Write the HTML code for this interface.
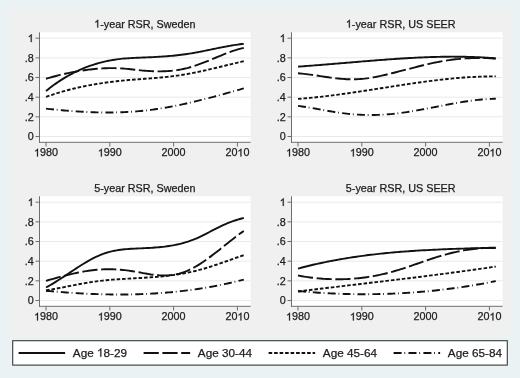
<!DOCTYPE html><html><head><meta charset="utf-8"><style>html,body{margin:0;padding:0;background:#eaf2f3;}svg{display:block;will-change:transform;}text{font-family:"Liberation Sans",sans-serif;stroke:#222;stroke-width:0.25px;}.one{fill-opacity:0;stroke-opacity:0;}</style></head><body>
<svg width="520" height="378" viewBox="0 0 520 378">
<g>
<rect x="0" y="0" width="520" height="378" fill="#eaf2f3"/>
<defs><filter id="soft" x="-10" y="-10" width="540" height="400" filterUnits="userSpaceOnUse"><feGaussianBlur stdDeviation="2.5"/></filter></defs>
<rect x="9.5" y="9.5" width="502" height="327" fill="#f0f0f0" filter="url(#soft)"/>
<rect x="39.50" y="32.30" width="211.10" height="110.00" fill="#ffffff"/>
<line x1="40.00" y1="136.50" x2="250.60" y2="136.50" stroke="#e9e9e9" stroke-width="1"/>
<line x1="40.00" y1="116.84" x2="250.60" y2="116.84" stroke="#e9e9e9" stroke-width="1"/>
<line x1="40.00" y1="97.18" x2="250.60" y2="97.18" stroke="#e9e9e9" stroke-width="1"/>
<line x1="40.00" y1="77.52" x2="250.60" y2="77.52" stroke="#e9e9e9" stroke-width="1"/>
<line x1="40.00" y1="57.86" x2="250.60" y2="57.86" stroke="#e9e9e9" stroke-width="1"/>
<line x1="40.00" y1="38.20" x2="250.60" y2="38.20" stroke="#e9e9e9" stroke-width="1"/>
<line x1="39.50" y1="32.30" x2="39.50" y2="142.80" stroke="#6e6e6e" stroke-width="1"/>
<line x1="39.00" y1="142.30" x2="250.60" y2="142.30" stroke="#6e6e6e" stroke-width="1"/>
<line x1="35.50" y1="136.50" x2="39.50" y2="136.50" stroke="#6e6e6e" stroke-width="1"/>
<text x="33.70" y="140.35" font-size="10.80" fill="#1a1a1a" text-anchor="end">0</text>
<line x1="35.50" y1="116.84" x2="39.50" y2="116.84" stroke="#6e6e6e" stroke-width="1"/>
<text x="33.70" y="120.69" font-size="10.80" fill="#1a1a1a" text-anchor="end">.2</text>
<line x1="35.50" y1="97.18" x2="39.50" y2="97.18" stroke="#6e6e6e" stroke-width="1"/>
<text x="33.70" y="101.03" font-size="10.80" fill="#1a1a1a" text-anchor="end">.4</text>
<line x1="35.50" y1="77.52" x2="39.50" y2="77.52" stroke="#6e6e6e" stroke-width="1"/>
<text x="33.70" y="81.37" font-size="10.80" fill="#1a1a1a" text-anchor="end">.6</text>
<line x1="35.50" y1="57.86" x2="39.50" y2="57.86" stroke="#6e6e6e" stroke-width="1"/>
<text x="33.70" y="61.71" font-size="10.80" fill="#1a1a1a" text-anchor="end">.8</text>
<line x1="35.50" y1="38.20" x2="39.50" y2="38.20" stroke="#6e6e6e" stroke-width="1"/>
<text x="33.70" y="42.05" font-size="10.80" fill="#1a1a1a" text-anchor="end"><tspan class="one">1</tspan></text>
<line x1="46.00" y1="142.30" x2="46.00" y2="146.50" stroke="#6e6e6e" stroke-width="1"/>
<text x="46.00" y="156.45" font-size="10.80" fill="#1a1a1a" text-anchor="middle"><tspan class="one">1</tspan>980</text>
<line x1="109.80" y1="142.30" x2="109.80" y2="146.50" stroke="#6e6e6e" stroke-width="1"/>
<text x="109.80" y="156.45" font-size="10.80" fill="#1a1a1a" text-anchor="middle"><tspan class="one">1</tspan>990</text>
<line x1="173.60" y1="142.30" x2="173.60" y2="146.50" stroke="#6e6e6e" stroke-width="1"/>
<text x="173.60" y="156.45" font-size="10.80" fill="#1a1a1a" text-anchor="middle">2000</text>
<line x1="237.40" y1="142.30" x2="237.40" y2="146.50" stroke="#6e6e6e" stroke-width="1"/>
<text x="237.40" y="156.45" font-size="10.80" fill="#1a1a1a" text-anchor="middle">20<tspan class="one">1</tspan>0</text>
<text x="144.90" y="27.60" font-size="10.80" fill="#1a1a1a" text-anchor="middle"><tspan class="one">1</tspan>-year RSR, Sweden</text>
<path d="M46.00,108.63 L48.02,108.85 L50.04,109.07 L52.05,109.28 L54.07,109.48 L56.09,109.68 L58.11,109.88 L60.13,110.07 L62.15,110.25 L64.16,110.43 L66.18,110.60 L68.20,110.77 L70.22,110.93 L72.24,111.08 L74.25,111.23 L76.27,111.37 L78.29,111.50 L80.31,111.62 L82.33,111.74 L84.35,111.85 L86.36,111.95 L88.38,112.04 L90.40,112.13 L92.42,112.21 L94.44,112.27 L96.45,112.33 L98.47,112.38 L100.49,112.42 L102.51,112.45 L104.53,112.47 L106.54,112.48 L108.56,112.48 L110.58,112.47 L112.60,112.46 L114.62,112.42 L116.64,112.38 L118.65,112.33 L120.67,112.27 L122.69,112.19 L124.71,112.11 L126.73,112.01 L128.74,111.90 L130.76,111.77 L132.78,111.64 L134.80,111.49 L136.82,111.33 L138.84,111.16 L140.85,110.97 L142.87,110.77 L144.89,110.56 L146.91,110.33 L148.93,110.09 L150.94,109.84 L152.96,109.57 L154.98,109.29 L157.00,109.00 L159.02,108.69 L161.04,108.38 L163.05,108.05 L165.07,107.71 L167.09,107.36 L169.11,106.99 L171.13,106.62 L173.14,106.24 L175.16,105.84 L177.18,105.44 L179.20,105.02 L181.22,104.60 L183.24,104.17 L185.25,103.73 L187.27,103.28 L189.29,102.82 L191.31,102.36 L193.33,101.89 L195.34,101.41 L197.36,100.92 L199.38,100.42 L201.40,99.92 L203.42,99.42 L205.43,98.90 L207.45,98.39 L209.47,97.86 L211.49,97.33 L213.51,96.80 L215.53,96.26 L217.54,95.72 L219.56,95.17 L221.58,94.62 L223.60,94.06 L225.62,93.51 L227.63,92.95 L229.65,92.38 L231.67,91.82 L233.69,91.25 L235.71,90.68 L237.73,90.11 L239.74,89.54 L241.76,88.96 L243.78,88.39" fill="none" stroke="#111111" stroke-width="1.9" stroke-linejoin="round" stroke-dasharray="8.0 2.8 0.8 3.3"/>
<path d="M46.00,96.92 L48.02,96.20 L50.04,95.49 L52.05,94.81 L54.07,94.14 L56.09,93.49 L58.11,92.86 L60.13,92.25 L62.15,91.66 L64.16,91.08 L66.18,90.52 L68.20,89.98 L70.22,89.46 L72.24,88.95 L74.25,88.46 L76.27,87.98 L78.29,87.52 L80.31,87.07 L82.33,86.64 L84.35,86.23 L86.36,85.82 L88.38,85.44 L90.40,85.06 L92.42,84.70 L94.44,84.35 L96.45,84.01 L98.47,83.69 L100.49,83.37 L102.51,83.07 L104.53,82.78 L106.54,82.50 L108.56,82.23 L110.58,81.97 L112.60,81.72 L114.62,81.48 L116.64,81.25 L118.65,81.03 L120.67,80.82 L122.69,80.61 L124.71,80.42 L126.73,80.23 L128.74,80.05 L130.76,79.87 L132.78,79.70 L134.80,79.54 L136.82,79.38 L138.84,79.23 L140.85,79.08 L142.87,78.94 L144.89,78.79 L146.91,78.65 L148.93,78.50 L150.94,78.35 L152.96,78.19 L154.98,78.03 L157.00,77.86 L159.02,77.69 L161.04,77.50 L163.05,77.31 L165.07,77.10 L167.09,76.88 L169.11,76.65 L171.13,76.41 L173.14,76.16 L175.16,75.89 L177.18,75.62 L179.20,75.32 L181.22,75.02 L183.24,74.70 L185.25,74.36 L187.27,74.01 L189.29,73.65 L191.31,73.27 L193.33,72.88 L195.34,72.47 L197.36,72.06 L199.38,71.64 L201.40,71.20 L203.42,70.76 L205.43,70.31 L207.45,69.85 L209.47,69.38 L211.49,68.91 L213.51,68.44 L215.53,67.96 L217.54,67.47 L219.56,66.99 L221.58,66.50 L223.60,66.01 L225.62,65.52 L227.63,65.03 L229.65,64.54 L231.67,64.06 L233.69,63.57 L235.71,63.09 L237.73,62.62 L239.74,62.15 L241.76,61.68 L243.78,61.22" fill="none" stroke="#111111" stroke-width="1.9" stroke-linejoin="round" stroke-dasharray="3.6 1.9"/>
<path d="M46.00,78.76 L48.02,78.17 L50.04,77.60 L52.05,77.04 L54.07,76.49 L56.09,75.96 L58.11,75.45 L60.13,74.95 L62.15,74.46 L64.16,73.99 L66.18,73.54 L68.20,73.10 L70.22,72.68 L72.24,72.28 L74.25,71.90 L76.27,71.53 L78.29,71.17 L80.31,70.84 L82.33,70.52 L84.35,70.22 L86.36,69.94 L88.38,69.68 L90.40,69.44 L92.42,69.21 L94.44,69.01 L96.45,68.82 L98.47,68.65 L100.49,68.51 L102.51,68.38 L104.53,68.28 L106.54,68.20 L108.56,68.15 L110.58,68.12 L112.60,68.11 L114.62,68.13 L116.64,68.18 L118.65,68.26 L120.67,68.36 L122.69,68.49 L124.71,68.65 L126.73,68.84 L128.74,69.04 L130.76,69.26 L132.78,69.49 L134.80,69.72 L136.82,69.96 L138.84,70.18 L140.85,70.39 L142.87,70.58 L144.89,70.76 L146.91,70.91 L148.93,71.05 L150.94,71.16 L152.96,71.26 L154.98,71.32 L157.00,71.36 L159.02,71.38 L161.04,71.37 L163.05,71.32 L165.07,71.25 L167.09,71.15 L169.11,71.01 L171.13,70.83 L173.14,70.63 L175.16,70.38 L177.18,70.10 L179.20,69.77 L181.22,69.41 L183.24,69.00 L185.25,68.55 L187.27,68.06 L189.29,67.52 L191.31,66.93 L193.33,66.30 L195.34,65.64 L197.36,64.95 L199.38,64.22 L201.40,63.47 L203.42,62.69 L205.43,61.90 L207.45,61.08 L209.47,60.26 L211.49,59.43 L213.51,58.59 L215.53,57.75 L217.54,56.92 L219.56,56.09 L221.58,55.26 L223.60,54.45 L225.62,53.66 L227.63,52.89 L229.65,52.14 L231.67,51.41 L233.69,50.72 L235.71,50.06 L237.73,49.44 L239.74,48.86 L241.76,48.32 L243.78,47.83" fill="none" stroke="#111111" stroke-width="1.9" stroke-linejoin="round" stroke-dasharray="15.2 3.6"/>
<path d="M46.00,91.07 L48.02,89.43 L50.04,87.84 L52.05,86.30 L54.07,84.82 L56.09,83.38 L58.11,81.99 L60.13,80.65 L62.15,79.35 L64.16,78.10 L66.18,76.90 L68.20,75.74 L70.22,74.63 L72.24,73.55 L74.25,72.52 L76.27,71.54 L78.29,70.59 L80.31,69.68 L82.33,68.81 L84.35,67.98 L86.36,67.19 L88.38,66.43 L90.40,65.72 L92.42,65.03 L94.44,64.38 L96.45,63.77 L98.47,63.19 L100.49,62.64 L102.51,62.12 L104.53,61.64 L106.54,61.19 L108.56,60.77 L110.58,60.38 L112.60,60.02 L114.62,59.70 L116.64,59.40 L118.65,59.13 L120.67,58.89 L122.69,58.68 L124.71,58.49 L126.73,58.34 L128.74,58.20 L130.76,58.08 L132.78,57.98 L134.80,57.88 L136.82,57.80 L138.84,57.72 L140.85,57.64 L142.87,57.56 L144.89,57.48 L146.91,57.39 L148.93,57.30 L150.94,57.21 L152.96,57.11 L154.98,57.01 L157.00,56.90 L159.02,56.78 L161.04,56.66 L163.05,56.53 L165.07,56.38 L167.09,56.23 L169.11,56.07 L171.13,55.89 L173.14,55.70 L175.16,55.50 L177.18,55.29 L179.20,55.06 L181.22,54.81 L183.24,54.55 L185.25,54.28 L187.27,53.98 L189.29,53.67 L191.31,53.34 L193.33,52.99 L195.34,52.63 L197.36,52.26 L199.38,51.88 L201.40,51.48 L203.42,51.08 L205.43,50.67 L207.45,50.26 L209.47,49.85 L211.49,49.43 L213.51,49.01 L215.53,48.60 L217.54,48.18 L219.56,47.77 L221.58,47.37 L223.60,46.98 L225.62,46.59 L227.63,46.22 L229.65,45.86 L231.67,45.51 L233.69,45.18 L235.71,44.87 L237.73,44.58 L239.74,44.30 L241.76,44.05 L243.78,43.82" fill="none" stroke="#111111" stroke-width="1.9" stroke-linejoin="round"/>
<rect x="291.50" y="32.30" width="211.10" height="110.00" fill="#ffffff"/>
<line x1="292.00" y1="136.50" x2="502.60" y2="136.50" stroke="#e9e9e9" stroke-width="1"/>
<line x1="292.00" y1="116.84" x2="502.60" y2="116.84" stroke="#e9e9e9" stroke-width="1"/>
<line x1="292.00" y1="97.18" x2="502.60" y2="97.18" stroke="#e9e9e9" stroke-width="1"/>
<line x1="292.00" y1="77.52" x2="502.60" y2="77.52" stroke="#e9e9e9" stroke-width="1"/>
<line x1="292.00" y1="57.86" x2="502.60" y2="57.86" stroke="#e9e9e9" stroke-width="1"/>
<line x1="292.00" y1="38.20" x2="502.60" y2="38.20" stroke="#e9e9e9" stroke-width="1"/>
<line x1="291.50" y1="32.30" x2="291.50" y2="142.80" stroke="#6e6e6e" stroke-width="1"/>
<line x1="291.00" y1="142.30" x2="502.60" y2="142.30" stroke="#6e6e6e" stroke-width="1"/>
<line x1="287.50" y1="136.50" x2="291.50" y2="136.50" stroke="#6e6e6e" stroke-width="1"/>
<text x="285.70" y="140.35" font-size="10.80" fill="#1a1a1a" text-anchor="end">0</text>
<line x1="287.50" y1="116.84" x2="291.50" y2="116.84" stroke="#6e6e6e" stroke-width="1"/>
<text x="285.70" y="120.69" font-size="10.80" fill="#1a1a1a" text-anchor="end">.2</text>
<line x1="287.50" y1="97.18" x2="291.50" y2="97.18" stroke="#6e6e6e" stroke-width="1"/>
<text x="285.70" y="101.03" font-size="10.80" fill="#1a1a1a" text-anchor="end">.4</text>
<line x1="287.50" y1="77.52" x2="291.50" y2="77.52" stroke="#6e6e6e" stroke-width="1"/>
<text x="285.70" y="81.37" font-size="10.80" fill="#1a1a1a" text-anchor="end">.6</text>
<line x1="287.50" y1="57.86" x2="291.50" y2="57.86" stroke="#6e6e6e" stroke-width="1"/>
<text x="285.70" y="61.71" font-size="10.80" fill="#1a1a1a" text-anchor="end">.8</text>
<line x1="287.50" y1="38.20" x2="291.50" y2="38.20" stroke="#6e6e6e" stroke-width="1"/>
<text x="285.70" y="42.05" font-size="10.80" fill="#1a1a1a" text-anchor="end"><tspan class="one">1</tspan></text>
<line x1="298.00" y1="142.30" x2="298.00" y2="146.50" stroke="#6e6e6e" stroke-width="1"/>
<text x="298.00" y="156.45" font-size="10.80" fill="#1a1a1a" text-anchor="middle"><tspan class="one">1</tspan>980</text>
<line x1="361.80" y1="142.30" x2="361.80" y2="146.50" stroke="#6e6e6e" stroke-width="1"/>
<text x="361.80" y="156.45" font-size="10.80" fill="#1a1a1a" text-anchor="middle"><tspan class="one">1</tspan>990</text>
<line x1="425.60" y1="142.30" x2="425.60" y2="146.50" stroke="#6e6e6e" stroke-width="1"/>
<text x="425.60" y="156.45" font-size="10.80" fill="#1a1a1a" text-anchor="middle">2000</text>
<line x1="489.40" y1="142.30" x2="489.40" y2="146.50" stroke="#6e6e6e" stroke-width="1"/>
<text x="489.40" y="156.45" font-size="10.80" fill="#1a1a1a" text-anchor="middle">20<tspan class="one">1</tspan>0</text>
<text x="400.70" y="27.60" font-size="10.80" fill="#1a1a1a" text-anchor="middle"><tspan class="one">1</tspan>-year RSR, US SEER</text>
<path d="M298.00,105.90 L300.02,106.16 L302.04,106.45 L304.05,106.75 L306.07,107.06 L308.09,107.39 L310.11,107.72 L312.13,108.07 L314.15,108.42 L316.16,108.78 L318.18,109.14 L320.20,109.50 L322.22,109.87 L324.24,110.23 L326.25,110.59 L328.27,110.94 L330.29,111.29 L332.31,111.63 L334.33,111.96 L336.35,112.28 L338.36,112.59 L340.38,112.88 L342.40,113.15 L344.42,113.41 L346.44,113.65 L348.45,113.86 L350.47,114.06 L352.49,114.24 L354.51,114.40 L356.53,114.55 L358.54,114.67 L360.56,114.77 L362.58,114.86 L364.60,114.92 L366.62,114.97 L368.64,115.00 L370.65,115.00 L372.67,115.00 L374.69,114.97 L376.71,114.92 L378.73,114.85 L380.74,114.77 L382.76,114.67 L384.78,114.55 L386.80,114.41 L388.82,114.25 L390.84,114.08 L392.85,113.88 L394.87,113.67 L396.89,113.44 L398.91,113.20 L400.93,112.94 L402.94,112.66 L404.96,112.37 L406.98,112.07 L409.00,111.76 L411.02,111.44 L413.04,111.10 L415.05,110.76 L417.07,110.40 L419.09,110.04 L421.11,109.68 L423.13,109.30 L425.14,108.92 L427.16,108.54 L429.18,108.15 L431.20,107.76 L433.22,107.37 L435.24,106.98 L437.25,106.58 L439.27,106.19 L441.29,105.80 L443.31,105.41 L445.33,105.02 L447.34,104.64 L449.36,104.26 L451.38,103.89 L453.40,103.52 L455.42,103.16 L457.43,102.81 L459.45,102.47 L461.47,102.13 L463.49,101.81 L465.51,101.50 L467.53,101.20 L469.54,100.91 L471.56,100.64 L473.58,100.38 L475.60,100.14 L477.62,99.91 L479.63,99.70 L481.65,99.51 L483.67,99.34 L485.69,99.19 L487.71,99.05 L489.73,98.94 L491.74,98.85 L493.76,98.79 L495.78,98.74" fill="none" stroke="#111111" stroke-width="1.9" stroke-linejoin="round" stroke-dasharray="8.0 2.8 0.8 3.3"/>
<path d="M298.00,98.87 L300.02,98.72 L302.04,98.56 L304.05,98.40 L306.07,98.23 L308.09,98.05 L310.11,97.86 L312.13,97.67 L314.15,97.47 L316.16,97.26 L318.18,97.05 L320.20,96.83 L322.22,96.60 L324.24,96.37 L326.25,96.13 L328.27,95.89 L330.29,95.64 L332.31,95.38 L334.33,95.12 L336.35,94.86 L338.36,94.59 L340.38,94.32 L342.40,94.04 L344.42,93.76 L346.44,93.48 L348.45,93.19 L350.47,92.90 L352.49,92.60 L354.51,92.31 L356.53,92.01 L358.54,91.70 L360.56,91.40 L362.58,91.09 L364.60,90.78 L366.62,90.47 L368.64,90.16 L370.65,89.85 L372.67,89.53 L374.69,89.22 L376.71,88.90 L378.73,88.59 L380.74,88.27 L382.76,87.95 L384.78,87.64 L386.80,87.32 L388.82,87.01 L390.84,86.69 L392.85,86.38 L394.87,86.06 L396.89,85.75 L398.91,85.44 L400.93,85.14 L402.94,84.83 L404.96,84.53 L406.98,84.22 L409.00,83.93 L411.02,83.63 L413.04,83.34 L415.05,83.05 L417.07,82.76 L419.09,82.48 L421.11,82.20 L423.13,81.92 L425.14,81.65 L427.16,81.39 L429.18,81.12 L431.20,80.87 L433.22,80.61 L435.24,80.37 L437.25,80.13 L439.27,79.89 L441.29,79.66 L443.31,79.44 L445.33,79.22 L447.34,79.01 L449.36,78.80 L451.38,78.61 L453.40,78.42 L455.42,78.23 L457.43,78.06 L459.45,77.89 L461.47,77.73 L463.49,77.57 L465.51,77.43 L467.53,77.30 L469.54,77.17 L471.56,77.05 L473.58,76.94 L475.60,76.84 L477.62,76.75 L479.63,76.67 L481.65,76.60 L483.67,76.54 L485.69,76.49 L487.71,76.45 L489.73,76.42 L491.74,76.40 L493.76,76.40 L495.78,76.40" fill="none" stroke="#111111" stroke-width="1.9" stroke-linejoin="round" stroke-dasharray="3.6 1.9"/>
<path d="M298.00,73.31 L300.02,73.48 L302.04,73.67 L304.05,73.88 L306.07,74.11 L308.09,74.36 L310.11,74.62 L312.13,74.90 L314.15,75.19 L316.16,75.48 L318.18,75.78 L320.20,76.09 L322.22,76.39 L324.24,76.69 L326.25,76.99 L328.27,77.29 L330.29,77.57 L332.31,77.84 L334.33,78.10 L336.35,78.34 L338.36,78.56 L340.38,78.75 L342.40,78.92 L344.42,79.07 L346.44,79.18 L348.45,79.25 L350.47,79.30 L352.49,79.31 L354.51,79.29 L356.53,79.23 L358.54,79.15 L360.56,79.02 L362.58,78.86 L364.60,78.67 L366.62,78.43 L368.64,78.17 L370.65,77.86 L372.67,77.52 L374.69,77.15 L376.71,76.75 L378.73,76.33 L380.74,75.88 L382.76,75.42 L384.78,74.95 L386.80,74.46 L388.82,73.97 L390.84,73.47 L392.85,72.97 L394.87,72.47 L396.89,71.96 L398.91,71.45 L400.93,70.94 L402.94,70.42 L404.96,69.91 L406.98,69.39 L409.00,68.87 L411.02,68.35 L413.04,67.83 L415.05,67.31 L417.07,66.79 L419.09,66.28 L421.11,65.77 L423.13,65.27 L425.14,64.78 L427.16,64.30 L429.18,63.83 L431.20,63.38 L433.22,62.94 L435.24,62.52 L437.25,62.12 L439.27,61.73 L441.29,61.36 L443.31,61.02 L445.33,60.69 L447.34,60.37 L449.36,60.08 L451.38,59.81 L453.40,59.55 L455.42,59.31 L457.43,59.09 L459.45,58.89 L461.47,58.71 L463.49,58.55 L465.51,58.41 L467.53,58.29 L469.54,58.18 L471.56,58.10 L473.58,58.03 L475.60,57.99 L477.62,57.96 L479.63,57.95 L481.65,57.97 L483.67,58.00 L485.69,58.05 L487.71,58.12 L489.73,58.22 L491.74,58.33 L493.76,58.46 L495.78,58.62" fill="none" stroke="#111111" stroke-width="1.9" stroke-linejoin="round" stroke-dasharray="15.2 3.6"/>
<path d="M298.00,66.61 L300.02,66.47 L302.04,66.33 L304.05,66.18 L306.07,66.03 L308.09,65.88 L310.11,65.73 L312.13,65.58 L314.15,65.42 L316.16,65.27 L318.18,65.11 L320.20,64.95 L322.22,64.78 L324.24,64.62 L326.25,64.46 L328.27,64.29 L330.29,64.12 L332.31,63.96 L334.33,63.79 L336.35,63.62 L338.36,63.45 L340.38,63.28 L342.40,63.11 L344.42,62.94 L346.44,62.77 L348.45,62.60 L350.47,62.43 L352.49,62.26 L354.51,62.10 L356.53,61.93 L358.54,61.76 L360.56,61.59 L362.58,61.42 L364.60,61.26 L366.62,61.09 L368.64,60.93 L370.65,60.77 L372.67,60.61 L374.69,60.45 L376.71,60.29 L378.73,60.13 L380.74,59.98 L382.76,59.83 L384.78,59.68 L386.80,59.53 L388.82,59.38 L390.84,59.24 L392.85,59.10 L394.87,58.96 L396.89,58.82 L398.91,58.69 L400.93,58.56 L402.94,58.43 L404.96,58.30 L406.98,58.18 L409.00,58.07 L411.02,57.95 L413.04,57.84 L415.05,57.74 L417.07,57.64 L419.09,57.54 L421.11,57.44 L423.13,57.36 L425.14,57.27 L427.16,57.19 L429.18,57.12 L431.20,57.05 L433.22,56.99 L435.24,56.93 L437.25,56.88 L439.27,56.83 L441.29,56.79 L443.31,56.75 L445.33,56.72 L447.34,56.70 L449.36,56.68 L451.38,56.67 L453.40,56.67 L455.42,56.68 L457.43,56.69 L459.45,56.70 L461.47,56.73 L463.49,56.76 L465.51,56.80 L467.53,56.85 L469.54,56.90 L471.56,56.97 L473.58,57.04 L475.60,57.12 L477.62,57.21 L479.63,57.30 L481.65,57.41 L483.67,57.52 L485.69,57.65 L487.71,57.78 L489.73,57.92 L491.74,58.07 L493.76,58.23 L495.78,58.40" fill="none" stroke="#111111" stroke-width="1.9" stroke-linejoin="round"/>
<rect x="39.50" y="196.30" width="211.10" height="110.00" fill="#ffffff"/>
<line x1="40.00" y1="300.50" x2="250.60" y2="300.50" stroke="#e9e9e9" stroke-width="1"/>
<line x1="40.00" y1="280.84" x2="250.60" y2="280.84" stroke="#e9e9e9" stroke-width="1"/>
<line x1="40.00" y1="261.18" x2="250.60" y2="261.18" stroke="#e9e9e9" stroke-width="1"/>
<line x1="40.00" y1="241.52" x2="250.60" y2="241.52" stroke="#e9e9e9" stroke-width="1"/>
<line x1="40.00" y1="221.86" x2="250.60" y2="221.86" stroke="#e9e9e9" stroke-width="1"/>
<line x1="40.00" y1="202.20" x2="250.60" y2="202.20" stroke="#e9e9e9" stroke-width="1"/>
<line x1="39.50" y1="196.30" x2="39.50" y2="306.80" stroke="#6e6e6e" stroke-width="1"/>
<line x1="39.00" y1="306.30" x2="250.60" y2="306.30" stroke="#6e6e6e" stroke-width="1"/>
<line x1="35.50" y1="300.50" x2="39.50" y2="300.50" stroke="#6e6e6e" stroke-width="1"/>
<text x="33.70" y="304.35" font-size="10.80" fill="#1a1a1a" text-anchor="end">0</text>
<line x1="35.50" y1="280.84" x2="39.50" y2="280.84" stroke="#6e6e6e" stroke-width="1"/>
<text x="33.70" y="284.69" font-size="10.80" fill="#1a1a1a" text-anchor="end">.2</text>
<line x1="35.50" y1="261.18" x2="39.50" y2="261.18" stroke="#6e6e6e" stroke-width="1"/>
<text x="33.70" y="265.03" font-size="10.80" fill="#1a1a1a" text-anchor="end">.4</text>
<line x1="35.50" y1="241.52" x2="39.50" y2="241.52" stroke="#6e6e6e" stroke-width="1"/>
<text x="33.70" y="245.37" font-size="10.80" fill="#1a1a1a" text-anchor="end">.6</text>
<line x1="35.50" y1="221.86" x2="39.50" y2="221.86" stroke="#6e6e6e" stroke-width="1"/>
<text x="33.70" y="225.71" font-size="10.80" fill="#1a1a1a" text-anchor="end">.8</text>
<line x1="35.50" y1="202.20" x2="39.50" y2="202.20" stroke="#6e6e6e" stroke-width="1"/>
<text x="33.70" y="206.05" font-size="10.80" fill="#1a1a1a" text-anchor="end"><tspan class="one">1</tspan></text>
<line x1="46.00" y1="306.30" x2="46.00" y2="310.50" stroke="#6e6e6e" stroke-width="1"/>
<text x="46.00" y="320.45" font-size="10.80" fill="#1a1a1a" text-anchor="middle"><tspan class="one">1</tspan>980</text>
<line x1="109.80" y1="306.30" x2="109.80" y2="310.50" stroke="#6e6e6e" stroke-width="1"/>
<text x="109.80" y="320.45" font-size="10.80" fill="#1a1a1a" text-anchor="middle"><tspan class="one">1</tspan>990</text>
<line x1="173.60" y1="306.30" x2="173.60" y2="310.50" stroke="#6e6e6e" stroke-width="1"/>
<text x="173.60" y="320.45" font-size="10.80" fill="#1a1a1a" text-anchor="middle">2000</text>
<line x1="237.40" y1="306.30" x2="237.40" y2="310.50" stroke="#6e6e6e" stroke-width="1"/>
<text x="237.40" y="320.45" font-size="10.80" fill="#1a1a1a" text-anchor="middle">20<tspan class="one">1</tspan>0</text>
<text x="144.90" y="192.00" font-size="10.80" fill="#1a1a1a" text-anchor="middle">5-year RSR, Sweden</text>
<path d="M46.00,290.76 L48.02,290.95 L50.04,291.13 L52.05,291.31 L54.07,291.49 L56.09,291.66 L58.11,291.82 L60.13,291.99 L62.15,292.15 L64.16,292.30 L66.18,292.45 L68.20,292.59 L70.22,292.73 L72.24,292.87 L74.25,293.00 L76.27,293.12 L78.29,293.24 L80.31,293.36 L82.33,293.47 L84.35,293.57 L86.36,293.67 L88.38,293.77 L90.40,293.86 L92.42,293.94 L94.44,294.02 L96.45,294.09 L98.47,294.16 L100.49,294.22 L102.51,294.27 L104.53,294.32 L106.54,294.36 L108.56,294.40 L110.58,294.43 L112.60,294.46 L114.62,294.47 L116.64,294.49 L118.65,294.49 L120.67,294.49 L122.69,294.49 L124.71,294.47 L126.73,294.45 L128.74,294.42 L130.76,294.39 L132.78,294.35 L134.80,294.30 L136.82,294.25 L138.84,294.19 L140.85,294.12 L142.87,294.04 L144.89,293.96 L146.91,293.87 L148.93,293.77 L150.94,293.66 L152.96,293.55 L154.98,293.43 L157.00,293.30 L159.02,293.17 L161.04,293.02 L163.05,292.87 L165.07,292.71 L167.09,292.55 L169.11,292.37 L171.13,292.19 L173.14,292.00 L175.16,291.80 L177.18,291.59 L179.20,291.37 L181.22,291.14 L183.24,290.91 L185.25,290.67 L187.27,290.42 L189.29,290.16 L191.31,289.89 L193.33,289.61 L195.34,289.32 L197.36,289.03 L199.38,288.72 L201.40,288.41 L203.42,288.09 L205.43,287.76 L207.45,287.41 L209.47,287.06 L211.49,286.70 L213.51,286.33 L215.53,285.95 L217.54,285.56 L219.56,285.16 L221.58,284.75 L223.60,284.34 L225.62,283.91 L227.63,283.47 L229.65,283.02 L231.67,282.56 L233.69,282.09 L235.71,281.61 L237.73,281.12 L239.74,280.62 L241.76,280.11 L243.78,279.59" fill="none" stroke="#111111" stroke-width="1.9" stroke-linejoin="round" stroke-dasharray="8.0 2.8 0.8 3.3"/>
<path d="M46.00,290.34 L48.02,290.02 L50.04,289.69 L52.05,289.34 L54.07,288.98 L56.09,288.62 L58.11,288.24 L60.13,287.86 L62.15,287.47 L64.16,287.08 L66.18,286.68 L68.20,286.28 L70.22,285.89 L72.24,285.49 L74.25,285.10 L76.27,284.71 L78.29,284.33 L80.31,283.95 L82.33,283.58 L84.35,283.22 L86.36,282.87 L88.38,282.53 L90.40,282.21 L92.42,281.90 L94.44,281.61 L96.45,281.34 L98.47,281.08 L100.49,280.84 L102.51,280.61 L104.53,280.40 L106.54,280.20 L108.56,280.01 L110.58,279.84 L112.60,279.67 L114.62,279.51 L116.64,279.37 L118.65,279.23 L120.67,279.09 L122.69,278.97 L124.71,278.84 L126.73,278.72 L128.74,278.61 L130.76,278.50 L132.78,278.38 L134.80,278.27 L136.82,278.16 L138.84,278.05 L140.85,277.93 L142.87,277.82 L144.89,277.70 L146.91,277.57 L148.93,277.44 L150.94,277.30 L152.96,277.15 L154.98,276.99 L157.00,276.83 L159.02,276.66 L161.04,276.47 L163.05,276.27 L165.07,276.06 L167.09,275.84 L169.11,275.60 L171.13,275.35 L173.14,275.08 L175.16,274.79 L177.18,274.49 L179.20,274.18 L181.22,273.84 L183.24,273.49 L185.25,273.12 L187.27,272.73 L189.29,272.32 L191.31,271.88 L193.33,271.43 L195.34,270.96 L197.36,270.46 L199.38,269.94 L201.40,269.39 L203.42,268.83 L205.43,268.24 L207.45,267.62 L209.47,267.00 L211.49,266.35 L213.51,265.69 L215.53,265.01 L217.54,264.33 L219.56,263.63 L221.58,262.93 L223.60,262.22 L225.62,261.51 L227.63,260.79 L229.65,260.07 L231.67,259.36 L233.69,258.64 L235.71,257.93 L237.73,257.23 L239.74,256.54 L241.76,255.85 L243.78,255.18" fill="none" stroke="#111111" stroke-width="1.9" stroke-linejoin="round" stroke-dasharray="3.6 1.9"/>
<path d="M46.00,280.86 L48.02,280.27 L50.04,279.69 L52.05,279.11 L54.07,278.54 L56.09,277.98 L58.11,277.42 L60.13,276.88 L62.15,276.34 L64.16,275.81 L66.18,275.30 L68.20,274.80 L70.22,274.32 L72.24,273.85 L74.25,273.40 L76.27,272.96 L78.29,272.55 L80.31,272.15 L82.33,271.77 L84.35,271.42 L86.36,271.09 L88.38,270.78 L90.40,270.50 L92.42,270.24 L94.44,270.02 L96.45,269.82 L98.47,269.64 L100.49,269.50 L102.51,269.39 L104.53,269.31 L106.54,269.27 L108.56,269.25 L110.58,269.27 L112.60,269.32 L114.62,269.39 L116.64,269.49 L118.65,269.63 L120.67,269.78 L122.69,269.97 L124.71,270.18 L126.73,270.41 L128.74,270.67 L130.76,270.96 L132.78,271.26 L134.80,271.59 L136.82,271.94 L138.84,272.30 L140.85,272.68 L142.87,273.06 L144.89,273.44 L146.91,273.80 L148.93,274.14 L150.94,274.46 L152.96,274.73 L154.98,274.97 L157.00,275.16 L159.02,275.31 L161.04,275.41 L163.05,275.45 L165.07,275.44 L167.09,275.37 L169.11,275.24 L171.13,275.05 L173.14,274.78 L175.16,274.45 L177.18,274.04 L179.20,273.56 L181.22,272.99 L183.24,272.34 L185.25,271.61 L187.27,270.79 L189.29,269.89 L191.31,268.91 L193.33,267.86 L195.34,266.74 L197.36,265.56 L199.38,264.32 L201.40,263.02 L203.42,261.68 L205.43,260.29 L207.45,258.85 L209.47,257.38 L211.49,255.88 L213.51,254.35 L215.53,252.79 L217.54,251.22 L219.56,249.63 L221.58,248.03 L223.60,246.42 L225.62,244.81 L227.63,243.20 L229.65,241.60 L231.67,240.00 L233.69,238.43 L235.71,236.87 L237.73,235.34 L239.74,233.83 L241.76,232.36 L243.78,230.93" fill="none" stroke="#111111" stroke-width="1.9" stroke-linejoin="round" stroke-dasharray="15.2 3.6"/>
<path d="M46.00,287.49 L48.02,286.39 L50.04,285.24 L52.05,284.06 L54.07,282.84 L56.09,281.59 L58.11,280.32 L60.13,279.02 L62.15,277.71 L64.16,276.38 L66.18,275.04 L68.20,273.70 L70.22,272.36 L72.24,271.02 L74.25,269.68 L76.27,268.36 L78.29,267.06 L80.31,265.77 L82.33,264.51 L84.35,263.28 L86.36,262.08 L88.38,260.91 L90.40,259.79 L92.42,258.71 L94.44,257.68 L96.45,256.71 L98.47,255.79 L100.49,254.93 L102.51,254.14 L104.53,253.41 L106.54,252.76 L108.56,252.17 L110.58,251.64 L112.60,251.16 L114.62,250.74 L116.64,250.37 L118.65,250.04 L120.67,249.75 L122.69,249.50 L124.71,249.29 L126.73,249.10 L128.74,248.95 L130.76,248.81 L132.78,248.69 L134.80,248.59 L136.82,248.50 L138.84,248.41 L140.85,248.33 L142.87,248.25 L144.89,248.16 L146.91,248.07 L148.93,247.96 L150.94,247.85 L152.96,247.72 L154.98,247.57 L157.00,247.41 L159.02,247.24 L161.04,247.04 L163.05,246.82 L165.07,246.57 L167.09,246.30 L169.11,246.01 L171.13,245.68 L173.14,245.33 L175.16,244.94 L177.18,244.52 L179.20,244.06 L181.22,243.56 L183.24,243.03 L185.25,242.45 L187.27,241.83 L189.29,241.17 L191.31,240.46 L193.33,239.70 L195.34,238.89 L197.36,238.03 L199.38,237.12 L201.40,236.16 L203.42,235.17 L205.43,234.14 L207.45,233.09 L209.47,232.02 L211.49,230.95 L213.51,229.89 L215.53,228.83 L217.54,227.80 L219.56,226.79 L221.58,225.82 L223.60,224.90 L225.62,224.02 L227.63,223.19 L229.65,222.39 L231.67,221.64 L233.69,220.93 L235.71,220.26 L237.73,219.63 L239.74,219.03 L241.76,218.47 L243.78,217.95" fill="none" stroke="#111111" stroke-width="1.9" stroke-linejoin="round"/>
<rect x="291.50" y="196.30" width="211.10" height="110.00" fill="#ffffff"/>
<line x1="292.00" y1="300.50" x2="502.60" y2="300.50" stroke="#e9e9e9" stroke-width="1"/>
<line x1="292.00" y1="280.84" x2="502.60" y2="280.84" stroke="#e9e9e9" stroke-width="1"/>
<line x1="292.00" y1="261.18" x2="502.60" y2="261.18" stroke="#e9e9e9" stroke-width="1"/>
<line x1="292.00" y1="241.52" x2="502.60" y2="241.52" stroke="#e9e9e9" stroke-width="1"/>
<line x1="292.00" y1="221.86" x2="502.60" y2="221.86" stroke="#e9e9e9" stroke-width="1"/>
<line x1="292.00" y1="202.20" x2="502.60" y2="202.20" stroke="#e9e9e9" stroke-width="1"/>
<line x1="291.50" y1="196.30" x2="291.50" y2="306.80" stroke="#6e6e6e" stroke-width="1"/>
<line x1="291.00" y1="306.30" x2="502.60" y2="306.30" stroke="#6e6e6e" stroke-width="1"/>
<line x1="287.50" y1="300.50" x2="291.50" y2="300.50" stroke="#6e6e6e" stroke-width="1"/>
<text x="285.70" y="304.35" font-size="10.80" fill="#1a1a1a" text-anchor="end">0</text>
<line x1="287.50" y1="280.84" x2="291.50" y2="280.84" stroke="#6e6e6e" stroke-width="1"/>
<text x="285.70" y="284.69" font-size="10.80" fill="#1a1a1a" text-anchor="end">.2</text>
<line x1="287.50" y1="261.18" x2="291.50" y2="261.18" stroke="#6e6e6e" stroke-width="1"/>
<text x="285.70" y="265.03" font-size="10.80" fill="#1a1a1a" text-anchor="end">.4</text>
<line x1="287.50" y1="241.52" x2="291.50" y2="241.52" stroke="#6e6e6e" stroke-width="1"/>
<text x="285.70" y="245.37" font-size="10.80" fill="#1a1a1a" text-anchor="end">.6</text>
<line x1="287.50" y1="221.86" x2="291.50" y2="221.86" stroke="#6e6e6e" stroke-width="1"/>
<text x="285.70" y="225.71" font-size="10.80" fill="#1a1a1a" text-anchor="end">.8</text>
<line x1="287.50" y1="202.20" x2="291.50" y2="202.20" stroke="#6e6e6e" stroke-width="1"/>
<text x="285.70" y="206.05" font-size="10.80" fill="#1a1a1a" text-anchor="end"><tspan class="one">1</tspan></text>
<line x1="298.00" y1="306.30" x2="298.00" y2="310.50" stroke="#6e6e6e" stroke-width="1"/>
<text x="298.00" y="320.45" font-size="10.80" fill="#1a1a1a" text-anchor="middle"><tspan class="one">1</tspan>980</text>
<line x1="361.80" y1="306.30" x2="361.80" y2="310.50" stroke="#6e6e6e" stroke-width="1"/>
<text x="361.80" y="320.45" font-size="10.80" fill="#1a1a1a" text-anchor="middle"><tspan class="one">1</tspan>990</text>
<line x1="425.60" y1="306.30" x2="425.60" y2="310.50" stroke="#6e6e6e" stroke-width="1"/>
<text x="425.60" y="320.45" font-size="10.80" fill="#1a1a1a" text-anchor="middle">2000</text>
<line x1="489.40" y1="306.30" x2="489.40" y2="310.50" stroke="#6e6e6e" stroke-width="1"/>
<text x="489.40" y="320.45" font-size="10.80" fill="#1a1a1a" text-anchor="middle">20<tspan class="one">1</tspan>0</text>
<text x="400.70" y="192.00" font-size="10.80" fill="#1a1a1a" text-anchor="middle">5-year RSR, US SEER</text>
<path d="M298.00,291.05 L300.02,291.23 L302.04,291.42 L304.05,291.60 L306.07,291.77 L308.09,291.93 L310.11,292.09 L312.13,292.25 L314.15,292.40 L316.16,292.54 L318.18,292.68 L320.20,292.81 L322.22,292.93 L324.24,293.05 L326.25,293.17 L328.27,293.28 L330.29,293.38 L332.31,293.48 L334.33,293.57 L336.35,293.65 L338.36,293.73 L340.38,293.80 L342.40,293.87 L344.42,293.93 L346.44,293.99 L348.45,294.04 L350.47,294.08 L352.49,294.12 L354.51,294.15 L356.53,294.18 L358.54,294.20 L360.56,294.21 L362.58,294.22 L364.60,294.22 L366.62,294.22 L368.64,294.21 L370.65,294.19 L372.67,294.17 L374.69,294.14 L376.71,294.11 L378.73,294.07 L380.74,294.02 L382.76,293.97 L384.78,293.91 L386.80,293.85 L388.82,293.78 L390.84,293.70 L392.85,293.62 L394.87,293.53 L396.89,293.43 L398.91,293.33 L400.93,293.23 L402.94,293.11 L404.96,292.99 L406.98,292.87 L409.00,292.74 L411.02,292.60 L413.04,292.46 L415.05,292.31 L417.07,292.15 L419.09,291.99 L421.11,291.82 L423.13,291.64 L425.14,291.46 L427.16,291.28 L429.18,291.08 L431.20,290.88 L433.22,290.68 L435.24,290.46 L437.25,290.25 L439.27,290.02 L441.29,289.79 L443.31,289.55 L445.33,289.31 L447.34,289.06 L449.36,288.80 L451.38,288.54 L453.40,288.27 L455.42,288.00 L457.43,287.71 L459.45,287.43 L461.47,287.13 L463.49,286.83 L465.51,286.52 L467.53,286.21 L469.54,285.89 L471.56,285.56 L473.58,285.23 L475.60,284.89 L477.62,284.54 L479.63,284.19 L481.65,283.83 L483.67,283.47 L485.69,283.10 L487.71,282.72 L489.73,282.33 L491.74,281.94 L493.76,281.55 L495.78,281.14" fill="none" stroke="#111111" stroke-width="1.9" stroke-linejoin="round" stroke-dasharray="8.0 2.8 0.8 3.3"/>
<path d="M298.00,291.45 L300.02,291.20 L302.04,290.96 L304.05,290.71 L306.07,290.47 L308.09,290.22 L310.11,289.98 L312.13,289.73 L314.15,289.49 L316.16,289.25 L318.18,289.00 L320.20,288.76 L322.22,288.52 L324.24,288.28 L326.25,288.04 L328.27,287.80 L330.29,287.56 L332.31,287.32 L334.33,287.08 L336.35,286.84 L338.36,286.60 L340.38,286.36 L342.40,286.12 L344.42,285.89 L346.44,285.65 L348.45,285.41 L350.47,285.17 L352.49,284.93 L354.51,284.70 L356.53,284.46 L358.54,284.22 L360.56,283.98 L362.58,283.74 L364.60,283.51 L366.62,283.27 L368.64,283.03 L370.65,282.79 L372.67,282.55 L374.69,282.31 L376.71,282.07 L378.73,281.83 L380.74,281.59 L382.76,281.35 L384.78,281.11 L386.80,280.87 L388.82,280.63 L390.84,280.39 L392.85,280.15 L394.87,279.90 L396.89,279.66 L398.91,279.42 L400.93,279.17 L402.94,278.93 L404.96,278.68 L406.98,278.43 L409.00,278.19 L411.02,277.94 L413.04,277.69 L415.05,277.44 L417.07,277.19 L419.09,276.94 L421.11,276.69 L423.13,276.44 L425.14,276.19 L427.16,275.93 L429.18,275.68 L431.20,275.42 L433.22,275.16 L435.24,274.91 L437.25,274.65 L439.27,274.39 L441.29,274.13 L443.31,273.86 L445.33,273.60 L447.34,273.34 L449.36,273.07 L451.38,272.81 L453.40,272.54 L455.42,272.27 L457.43,272.00 L459.45,271.73 L461.47,271.45 L463.49,271.18 L465.51,270.90 L467.53,270.63 L469.54,270.35 L471.56,270.07 L473.58,269.79 L475.60,269.50 L477.62,269.22 L479.63,268.93 L481.65,268.65 L483.67,268.36 L485.69,268.07 L487.71,267.77 L489.73,267.48 L491.74,267.18 L493.76,266.89 L495.78,266.59" fill="none" stroke="#111111" stroke-width="1.9" stroke-linejoin="round" stroke-dasharray="3.6 1.9"/>
<path d="M298.00,275.55 L300.02,275.91 L302.04,276.26 L304.05,276.58 L306.07,276.89 L308.09,277.18 L310.11,277.45 L312.13,277.70 L314.15,277.94 L316.16,278.15 L318.18,278.35 L320.20,278.53 L322.22,278.69 L324.24,278.83 L326.25,278.95 L328.27,279.05 L330.29,279.13 L332.31,279.19 L334.33,279.23 L336.35,279.26 L338.36,279.26 L340.38,279.25 L342.40,279.21 L344.42,279.15 L346.44,279.08 L348.45,278.98 L350.47,278.87 L352.49,278.73 L354.51,278.57 L356.53,278.40 L358.54,278.20 L360.56,277.98 L362.58,277.74 L364.60,277.48 L366.62,277.20 L368.64,276.90 L370.65,276.58 L372.67,276.23 L374.69,275.87 L376.71,275.48 L378.73,275.07 L380.74,274.65 L382.76,274.19 L384.78,273.72 L386.80,273.23 L388.82,272.71 L390.84,272.17 L392.85,271.61 L394.87,271.03 L396.89,270.43 L398.91,269.81 L400.93,269.18 L402.94,268.53 L404.96,267.87 L406.98,267.20 L409.00,266.52 L411.02,265.83 L413.04,265.13 L415.05,264.43 L417.07,263.73 L419.09,263.03 L421.11,262.33 L423.13,261.63 L425.14,260.94 L427.16,260.25 L429.18,259.57 L431.20,258.90 L433.22,258.24 L435.24,257.59 L437.25,256.96 L439.27,256.34 L441.29,255.74 L443.31,255.16 L445.33,254.60 L447.34,254.05 L449.36,253.53 L451.38,253.02 L453.40,252.54 L455.42,252.07 L457.43,251.63 L459.45,251.21 L461.47,250.82 L463.49,250.44 L465.51,250.10 L467.53,249.77 L469.54,249.47 L471.56,249.20 L473.58,248.95 L475.60,248.73 L477.62,248.54 L479.63,248.38 L481.65,248.24 L483.67,248.14 L485.69,248.06 L487.71,248.01 L489.73,248.00 L491.74,248.01 L493.76,248.06 L495.78,248.14" fill="none" stroke="#111111" stroke-width="1.9" stroke-linejoin="round" stroke-dasharray="15.2 3.6"/>
<path d="M298.00,268.59 L300.02,268.05 L302.04,267.52 L304.05,267.00 L306.07,266.49 L308.09,265.99 L310.11,265.50 L312.13,265.02 L314.15,264.55 L316.16,264.09 L318.18,263.64 L320.20,263.20 L322.22,262.76 L324.24,262.34 L326.25,261.92 L328.27,261.52 L330.29,261.12 L332.31,260.73 L334.33,260.35 L336.35,259.98 L338.36,259.61 L340.38,259.26 L342.40,258.91 L344.42,258.57 L346.44,258.23 L348.45,257.91 L350.47,257.59 L352.49,257.28 L354.51,256.98 L356.53,256.69 L358.54,256.40 L360.56,256.12 L362.58,255.84 L364.60,255.58 L366.62,255.31 L368.64,255.06 L370.65,254.81 L372.67,254.57 L374.69,254.34 L376.71,254.11 L378.73,253.89 L380.74,253.67 L382.76,253.46 L384.78,253.26 L386.80,253.06 L388.82,252.86 L390.84,252.67 L392.85,252.49 L394.87,252.31 L396.89,252.14 L398.91,251.97 L400.93,251.81 L402.94,251.65 L404.96,251.50 L406.98,251.35 L409.00,251.20 L411.02,251.06 L413.04,250.93 L415.05,250.80 L417.07,250.67 L419.09,250.54 L421.11,250.42 L423.13,250.31 L425.14,250.19 L427.16,250.08 L429.18,249.98 L431.20,249.87 L433.22,249.77 L435.24,249.68 L437.25,249.58 L439.27,249.49 L441.29,249.40 L443.31,249.32 L445.33,249.23 L447.34,249.15 L449.36,249.07 L451.38,249.00 L453.40,248.92 L455.42,248.85 L457.43,248.78 L459.45,248.71 L461.47,248.64 L463.49,248.58 L465.51,248.51 L467.53,248.45 L469.54,248.38 L471.56,248.32 L473.58,248.26 L475.60,248.20 L477.62,248.14 L479.63,248.09 L481.65,248.03 L483.67,247.97 L485.69,247.91 L487.71,247.86 L489.73,247.80 L491.74,247.74 L493.76,247.69 L495.78,247.63" fill="none" stroke="#111111" stroke-width="1.9" stroke-linejoin="round"/>
<rect x="12.7" y="340.7" width="494.6" height="24.4" fill="#ffffff" stroke="#3a3a3a" stroke-width="1.1"/>
<line x1="18.60" y1="353" x2="65.10" y2="353" stroke="#111111" stroke-width="1.9"/>
<text x="72.80" y="356.7" font-size="11.75" fill="#1a1a1a">Age <tspan class="one">1</tspan>8-29</text>
<line x1="143.60" y1="353" x2="190.10" y2="353" stroke="#111111" stroke-width="1.9" stroke-dasharray="15.2 3.6"/>
<text x="197.80" y="356.7" font-size="11.75" fill="#1a1a1a">Age 30-44</text>
<line x1="268.60" y1="353" x2="315.10" y2="353" stroke="#111111" stroke-width="1.9" stroke-dasharray="3.6 1.9"/>
<text x="322.80" y="356.7" font-size="11.75" fill="#1a1a1a">Age 45-64</text>
<line x1="393.60" y1="353" x2="440.10" y2="353" stroke="#111111" stroke-width="1.9" stroke-dasharray="8.0 2.8 0.8 3.3"/>
<text x="447.80" y="356.7" font-size="11.75" fill="#1a1a1a">Age 65-84</text>
<path d="M763,0 L583,0 L583,1147 Q518,1085 412.5,1023 Q307,961 223,930 L223,1104 Q374,1175 486.5,1276 Q599,1377 646,1472 L763,1472 Z" transform="translate(27.684,42.050) scale(0.005273,-0.005273)" fill="#1a1a1a" stroke="#222" stroke-width="47.4"/>
<path d="M763,0 L583,0 L583,1147 Q518,1085 412.5,1023 Q307,961 223,930 L223,1104 Q374,1175 486.5,1276 Q599,1377 646,1472 L763,1472 Z" transform="translate(33.984,156.450) scale(0.005273,-0.005273)" fill="#1a1a1a" stroke="#222" stroke-width="47.4"/>
<path d="M763,0 L583,0 L583,1147 Q518,1085 412.5,1023 Q307,961 223,930 L223,1104 Q374,1175 486.5,1276 Q599,1377 646,1472 L763,1472 Z" transform="translate(97.784,156.450) scale(0.005273,-0.005273)" fill="#1a1a1a" stroke="#222" stroke-width="47.4"/>
<path d="M763,0 L583,0 L583,1147 Q518,1085 412.5,1023 Q307,961 223,930 L223,1104 Q374,1175 486.5,1276 Q599,1377 646,1472 L763,1472 Z" transform="translate(237.392,156.450) scale(0.005273,-0.005273)" fill="#1a1a1a" stroke="#222" stroke-width="47.4"/>
<path d="M763,0 L583,0 L583,1147 Q518,1085 412.5,1023 Q307,961 223,930 L223,1104 Q374,1175 486.5,1276 Q599,1377 646,1472 L763,1472 Z" transform="translate(94.181,27.600) scale(0.005273,-0.005273)" fill="#1a1a1a" stroke="#222" stroke-width="47.4"/>
<path d="M763,0 L583,0 L583,1147 Q518,1085 412.5,1023 Q307,961 223,930 L223,1104 Q374,1175 486.5,1276 Q599,1377 646,1472 L763,1472 Z" transform="translate(279.684,42.050) scale(0.005273,-0.005273)" fill="#1a1a1a" stroke="#222" stroke-width="47.4"/>
<path d="M763,0 L583,0 L583,1147 Q518,1085 412.5,1023 Q307,961 223,930 L223,1104 Q374,1175 486.5,1276 Q599,1377 646,1472 L763,1472 Z" transform="translate(285.984,156.450) scale(0.005273,-0.005273)" fill="#1a1a1a" stroke="#222" stroke-width="47.4"/>
<path d="M763,0 L583,0 L583,1147 Q518,1085 412.5,1023 Q307,961 223,930 L223,1104 Q374,1175 486.5,1276 Q599,1377 646,1472 L763,1472 Z" transform="translate(349.784,156.450) scale(0.005273,-0.005273)" fill="#1a1a1a" stroke="#222" stroke-width="47.4"/>
<path d="M763,0 L583,0 L583,1147 Q518,1085 412.5,1023 Q307,961 223,930 L223,1104 Q374,1175 486.5,1276 Q599,1377 646,1472 L763,1472 Z" transform="translate(489.392,156.450) scale(0.005273,-0.005273)" fill="#1a1a1a" stroke="#222" stroke-width="47.4"/>
<path d="M763,0 L583,0 L583,1147 Q518,1085 412.5,1023 Q307,961 223,930 L223,1104 Q374,1175 486.5,1276 Q599,1377 646,1472 L763,1472 Z" transform="translate(345.794,27.600) scale(0.005273,-0.005273)" fill="#1a1a1a" stroke="#222" stroke-width="47.4"/>
<path d="M763,0 L583,0 L583,1147 Q518,1085 412.5,1023 Q307,961 223,930 L223,1104 Q374,1175 486.5,1276 Q599,1377 646,1472 L763,1472 Z" transform="translate(27.684,206.050) scale(0.005273,-0.005273)" fill="#1a1a1a" stroke="#222" stroke-width="47.4"/>
<path d="M763,0 L583,0 L583,1147 Q518,1085 412.5,1023 Q307,961 223,930 L223,1104 Q374,1175 486.5,1276 Q599,1377 646,1472 L763,1472 Z" transform="translate(33.984,320.450) scale(0.005273,-0.005273)" fill="#1a1a1a" stroke="#222" stroke-width="47.4"/>
<path d="M763,0 L583,0 L583,1147 Q518,1085 412.5,1023 Q307,961 223,930 L223,1104 Q374,1175 486.5,1276 Q599,1377 646,1472 L763,1472 Z" transform="translate(97.784,320.450) scale(0.005273,-0.005273)" fill="#1a1a1a" stroke="#222" stroke-width="47.4"/>
<path d="M763,0 L583,0 L583,1147 Q518,1085 412.5,1023 Q307,961 223,930 L223,1104 Q374,1175 486.5,1276 Q599,1377 646,1472 L763,1472 Z" transform="translate(237.392,320.450) scale(0.005273,-0.005273)" fill="#1a1a1a" stroke="#222" stroke-width="47.4"/>
<path d="M763,0 L583,0 L583,1147 Q518,1085 412.5,1023 Q307,961 223,930 L223,1104 Q374,1175 486.5,1276 Q599,1377 646,1472 L763,1472 Z" transform="translate(279.684,206.050) scale(0.005273,-0.005273)" fill="#1a1a1a" stroke="#222" stroke-width="47.4"/>
<path d="M763,0 L583,0 L583,1147 Q518,1085 412.5,1023 Q307,961 223,930 L223,1104 Q374,1175 486.5,1276 Q599,1377 646,1472 L763,1472 Z" transform="translate(285.984,320.450) scale(0.005273,-0.005273)" fill="#1a1a1a" stroke="#222" stroke-width="47.4"/>
<path d="M763,0 L583,0 L583,1147 Q518,1085 412.5,1023 Q307,961 223,930 L223,1104 Q374,1175 486.5,1276 Q599,1377 646,1472 L763,1472 Z" transform="translate(349.784,320.450) scale(0.005273,-0.005273)" fill="#1a1a1a" stroke="#222" stroke-width="47.4"/>
<path d="M763,0 L583,0 L583,1147 Q518,1085 412.5,1023 Q307,961 223,930 L223,1104 Q374,1175 486.5,1276 Q599,1377 646,1472 L763,1472 Z" transform="translate(489.392,320.450) scale(0.005273,-0.005273)" fill="#1a1a1a" stroke="#222" stroke-width="47.4"/>
<path d="M763,0 L583,0 L583,1147 Q518,1085 412.5,1023 Q307,961 223,930 L223,1104 Q374,1175 486.5,1276 Q599,1377 646,1472 L763,1472 Z" transform="translate(96.972,356.700) scale(0.005737,-0.005737)" fill="#1a1a1a" stroke="#222" stroke-width="43.6"/>
</g></svg></body></html>
